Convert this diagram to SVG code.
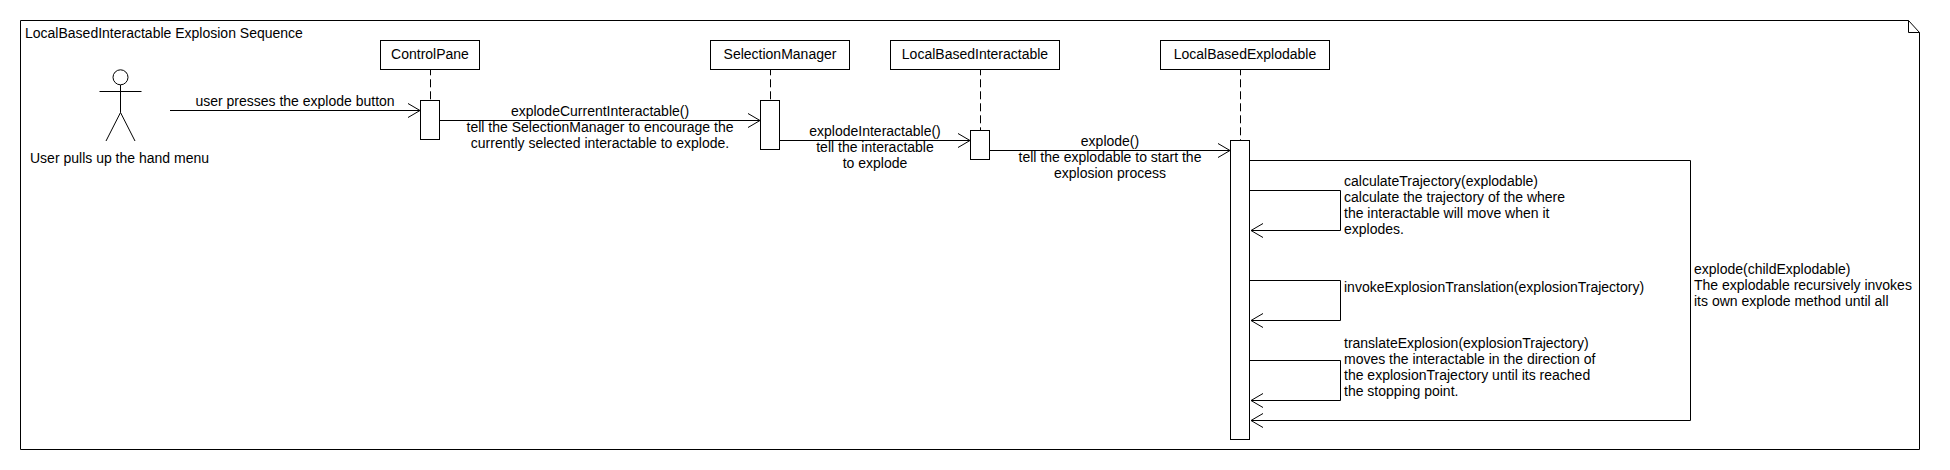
<svg xmlns="http://www.w3.org/2000/svg" width="1950" height="470" viewBox="0 0 1950 470">
<style>
text{font-family:"Liberation Sans",Arial,sans-serif;font-size:14px;fill:#000}
.c{text-anchor:middle}
.s{fill:#fff;stroke:#000;stroke-width:1}
.l{fill:none;stroke:#000;stroke-width:1}
.d{fill:none;stroke:#000;stroke-width:1;stroke-dasharray:8 4;stroke-dashoffset:1.7}
.m{fill:none;stroke:#000;stroke-width:1;marker-end:url(#open)}
</style>
<defs>
<marker id="open" markerUnits="userSpaceOnUse" markerWidth="16" markerHeight="18" refX="13" refY="8" orient="auto">
<path d="M1 1L13 8L1 15" fill="none" stroke="#000" stroke-width="1"/>
</marker>
</defs>
<rect width="1950" height="470" fill="#fff"/>
<g id="frame">
<path class="l" d="M1908.5 20.5H20.5V449.5H1919.500V32.5L1908.500 20.500V32.500H1919.500"/>
<text x="25" y="38">LocalBasedInteractable Explosion Sequence</text>
</g>
<g id="actor-user">
<ellipse class="s" cx="120.5" cy="77.300" rx="7.5" ry="7.500"/>
<path class="l" d="M120.5 85V112.500M99.5 91.500H141.500M120.5 112.500L106 141M120.5 112.500L135 141"/>
<text class="c" x="119.500" y="163">User pulls up the hand menu</text>
</g>
<g id="lifelines">
<path class="d" d="M430.500 69V100M770.500 69V100M980.500 69V130M1240.500 69V140"/>
</g>
<g id="node-controlpane">
<rect class="s" x="380.500" y="40.500" width="99" height="29"/>
<text class="c" x="430" y="59">ControlPane</text>
<rect class="s" x="420.500" y="100.500" width="19" height="39"/>
</g>
<g id="node-selectionmanager">
<rect class="s" x="710.500" y="40.500" width="139" height="29"/>
<text class="c" x="780" y="59">SelectionManager</text>
<rect class="s" x="760.500" y="100.500" width="19" height="49"/>
</g>
<g id="node-localbasedinteractable">
<rect class="s" x="890.500" y="40.500" width="169" height="29"/>
<text class="c" x="975" y="59">LocalBasedInteractable</text>
<rect class="s" x="970.500" y="130.500" width="19" height="29"/>
</g>
<g id="node-localbasedexplodable">
<rect class="s" x="1160.500" y="40.500" width="169" height="29"/>
<text class="c" x="1245" y="59">LocalBasedExplodable</text>
<rect class="s" x="1230.500" y="140.500" width="19" height="299"/>
</g>
<g id="connectors">
<path class="m" d="M170 110.500H420"/>
<path class="m" d="M440 120.500H760"/>
<path class="m" d="M780 140.500H970"/>
<path class="m" d="M990 150.500H1230"/>
<path class="m" d="M1250 160.500H1690.500V420.500H1251"/>
<path class="m" d="M1250 190.500H1340.500V230.500H1251"/>
<path class="m" d="M1250 280.500H1340.500V320.500H1251"/>
<path class="m" d="M1250 360.500H1340.500V400.500H1251"/>
</g>
<g id="labels">
<text class="c" x="295" y="106">user presses the explode button</text>
<text class="c" x="600" y="116">explodeCurrentInteractable()</text>
<text class="c" x="600" y="132">tell the SelectionManager to encourage the</text>
<text class="c" x="600" y="148">currently selected interactable to explode.</text>
<text class="c" x="875" y="136">explodeInteractable()</text>
<text class="c" x="875" y="152">tell the interactable</text>
<text class="c" x="875" y="168">to explode</text>
<text class="c" x="1110" y="146">explode()</text>
<text class="c" x="1110" y="162">tell the explodable to start the</text>
<text class="c" x="1110" y="178">explosion process</text>
<text x="1344" y="186">calculateTrajectory(explodable)</text>
<text x="1344" y="202">calculate the trajectory of the where</text>
<text x="1344" y="218">the interactable will move when it</text>
<text x="1344" y="234">explodes.</text>
<text x="1344" y="292">invokeExplosionTranslation(explosionTrajectory)</text>
<text x="1344" y="348">translateExplosion(explosionTrajectory)</text>
<text x="1344" y="364">moves the interactable in the direction of</text>
<text x="1344" y="380">the explosionTrajectory until its reached</text>
<text x="1344" y="396">the stopping point.</text>
<text x="1694" y="274">explode(childExplodable)</text>
<text x="1694" y="290">The explodable recursively invokes</text>
<text x="1694" y="306">its own explode method until all</text>
</g>
</svg>
